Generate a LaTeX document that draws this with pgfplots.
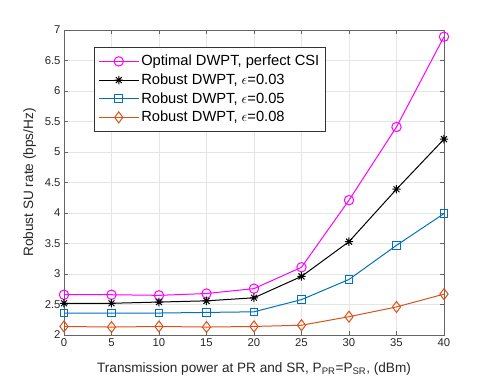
\documentclass[border=0pt]{standalone}
\usepackage{pgfplots}
\pgfplotsset{compat=1.18}
\usepackage{fontspec}
\setmainfont{Liberation Sans}
\definecolor{mblue}{rgb}{0,0.447,0.741}
\definecolor{morange}{rgb}{0.85,0.325,0.098}
\definecolor{mmag}{rgb}{1,0,1}
\pgfdeclareplotmark{mstar}{%
  \pgfpathmoveto{\pgfqpoint{-\pgfplotmarksize}{0pt}}\pgfpathlineto{\pgfqpoint{\pgfplotmarksize}{0pt}}%
  \pgfpathmoveto{\pgfqpoint{0pt}{-\pgfplotmarksize}}\pgfpathlineto{\pgfqpoint{0pt}{\pgfplotmarksize}}%
  \pgfpathmoveto{\pgfqpoint{-0.707\pgfplotmarksize}{-0.707\pgfplotmarksize}}\pgfpathlineto{\pgfqpoint{0.707\pgfplotmarksize}{0.707\pgfplotmarksize}}%
  \pgfpathmoveto{\pgfqpoint{-0.707\pgfplotmarksize}{0.707\pgfplotmarksize}}\pgfpathlineto{\pgfqpoint{0.707\pgfplotmarksize}{-0.707\pgfplotmarksize}}%
  \pgfusepathqstroke}
\begin{document}
\begin{tikzpicture}
\path[use as bounding box] (-64pt,-47pt) rectangle (427pt,335pt);
\begin{axis}[
    at={(0,0)}, anchor=south west,
    scale only axis,
    width=380pt, height=305pt,
    xmin=0, xmax=40, ymin=2, ymax=7,
    xtick={0,5,...,40},
    ytick={2,2.5,...,7},
    yticklabel style={/pgf/number format/fixed},
    /pgf/number format/assume math mode=true,
    tick label style={font=\fontsize{11.3}{13}\selectfont, text=black!85},
    label style={font=\fontsize{13.6}{16}\selectfont, text=black!85},
    xlabel={Transmission power at PR and SR, P\textsubscript{PR}=P\textsubscript{SR}, (dBm)},
    ylabel={Robust SU rate (bps/Hz)},
    xlabel style={yshift=-9pt},
    ylabel style={yshift=2pt},
    grid=major,
    grid style={black!10},
    axis line style={black!60},
    tick style={black!60},
    tick align=inside,
    major tick length=4pt,
    legend style={at={(0.079,0.944)}, anchor=north west, font=\fontsize{14.7}{16}\selectfont, draw=black!80, line width=0.5pt, inner xsep=4pt, inner ysep=6pt, row sep=2.5pt},
    legend cell align=left,
    legend image code/.code={\draw[mark repeat=2,mark phase=2] plot coordinates {(0pt,0pt) (20pt,0pt) (40pt,0pt)};},
]
\addplot[mmag, line width=1pt, mark=o, mark size=4.7pt, mark options={solid}] coordinates {
    (0,2.66) (5,2.66) (10,2.65) (15,2.68) (20,2.76) (25,3.11) (30,4.21) (35,5.41) (40,6.89)
};
\addlegendentry{Optimal DWPT, perfect CSI\hspace{18pt}}
\addplot[black, line width=1pt, mark=mstar, mark size=4.2pt, mark options={solid}] coordinates {
    (0,2.52) (5,2.52) (10,2.54) (15,2.56) (20,2.61) (25,2.96) (30,3.53) (35,4.39) (40,5.21)
};
\addlegendentry{Robust DWPT, $\epsilon$=0.03}
\addplot[mblue, line width=1pt, mark=square, mark size=3.8pt, mark options={solid}] coordinates {
    (0,2.36) (5,2.36) (10,2.36) (15,2.37) (20,2.38) (25,2.58) (30,2.91) (35,3.47) (40,3.99)
};
\addlegendentry{Robust DWPT, $\epsilon$=0.05}
\addplot[morange, line width=1pt, mark=diamond, mark size=5.5pt, mark options={solid}] coordinates {
    (0,2.14) (5,2.13) (10,2.14) (15,2.13) (20,2.14) (25,2.16) (30,2.30) (35,2.46) (40,2.67)
};
\addlegendentry{Robust DWPT, $\epsilon$=0.08}
\end{axis}
\end{tikzpicture}
\end{document}
